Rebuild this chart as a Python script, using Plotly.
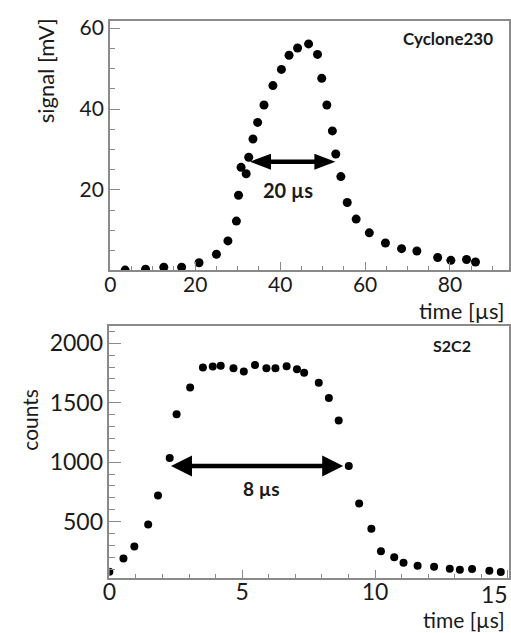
import plotly.graph_objects as go

# ---------------- data ----------------
top_time = [3.5, 8.3, 12.6, 16.8, 20.9, 25.0, 27.7, 29.7, 30.2, 30.8, 32.0, 32.6,
            33.6, 34.7, 36.2, 38.3, 40.3, 42.1, 44.1, 46.7, 48.8, 49.8, 51.0, 52.3,
            53.1, 54.3, 55.8, 57.9, 61.0, 64.8, 68.6, 72.2, 77.1, 80.2, 83.9, 86.0]
top_signal = [0.2, 0.4, 0.9, 0.9, 2.0, 4.1, 7.4, 12.3, 18.7, 25.6, 24.0, 28.1,
              32.6, 36.7, 41.0, 45.8, 49.8, 53.3, 55.1, 56.1, 53.5, 47.6, 41.0, 34.6,
              28.9, 23.3, 16.9, 12.8, 9.4, 6.9, 5.5, 4.9, 3.3, 2.6, 2.8, 2.2]

bot_time = [0.0, 0.53, 0.94, 1.46, 1.83, 2.27, 2.53, 3.04, 3.52, 3.89, 4.19, 4.67,
            5.06, 5.48, 5.91, 6.25, 6.67, 7.06, 7.33, 7.88, 8.26, 8.63, 9.01, 9.40,
            9.86, 10.22, 10.72, 11.07, 11.60, 12.22, 12.81, 13.19, 13.65, 14.30, 14.73]
bot_counts = [78, 189, 290, 476, 719, 1034, 1403, 1628, 1796, 1804, 1810, 1790,
              1762, 1818, 1790, 1790, 1806, 1782, 1752, 1668, 1539, 1350, 967, 652,
              440, 250, 200, 153, 128, 119, 103, 94, 100, 86, 75]

top_fwhm = [32.9, 53.0]
top_fwhm_level = 27.0
top_fwhm_label = "20 µs"
bot_fwhm = [2.32, 8.80]
bot_fwhm_level = 967
bot_fwhm_label = "8 µs"

top_xticks = [0, 20, 40, 60, 80]
top_yticks = [20, 40, 60]
bot_xticks = [0, 5, 10, 15]
bot_yticks = [500, 1000, 1500, 2000]

# ---------------- layout geometry ----------------
W, H = 511, 633
top_box = dict(x0=104.5, x1=510, y0=15, y1=267)
bot_box = dict(x0=104, x1=510, y0=323, y1=577.5)
top_xrange = [-0.1, 93.9]
top_yrange = [0.1, 61.8]
bot_xrange = [0.0, 15.04]
bot_yrange = [25, 2146]

FONT = "Lato, 'Open Sans', sans-serif"
AXIS_COL = "#8a8a8a"
TXT = "#1a1a1a"

fig = go.Figure()
fig.add_trace(go.Scatter(x=top_time, y=top_signal, mode="markers",
                         marker=dict(color="black", size=9),
                         xaxis="x", yaxis="y", showlegend=False))
fig.add_trace(go.Scatter(x=bot_time, y=bot_counts, mode="markers",
                         marker=dict(color="black", size=8),
                         xaxis="x2", yaxis="y2", showlegend=False))


def ax(domain, rng, ticks, minor, tlen, mlen, fs, anchor, standoff=0, ticktext=None):
    d = dict(domain=domain, range=rng, tickvals=ticks, ticks="inside",
             ticklen=tlen, tickwidth=1, tickcolor=AXIS_COL,
             minor=dict(dtick=minor, ticks="inside", ticklen=mlen,
                        tickcolor=AXIS_COL, tickwidth=1),
             showline=True, linecolor=AXIS_COL, linewidth=1.5, mirror=True,
             showgrid=False, zeroline=False, anchor=anchor,
             ticklabelstandoff=standoff,
             tickfont=dict(family=FONT, size=fs, color=TXT))
    if ticktext is not None:
        d["ticktext"] = ticktext
    return d


# last bottom x label ("15") sits at the very right edge; drawn separately below
bot_xtext = [str(v) for v in bot_xticks[:-1]] + [""]

fig.update_layout(
    width=W, height=H, margin=dict(l=0, r=0, t=0, b=0),
    paper_bgcolor="white", plot_bgcolor="white",
    xaxis=ax([top_box["x0"] / W, top_box["x1"] / W], top_xrange, top_xticks, 5, 9, 5, 21, "y", -5),
    yaxis=ax([1 - top_box["y1"] / H, 1 - top_box["y0"] / H], top_yrange, top_yticks, 5, 10, 5, 21, "x"),
    xaxis2=ax([bot_box["x0"] / W, bot_box["x1"] / W], bot_xrange, bot_xticks, 1, 8, 4, 23, "y2", -7,
              ticktext=bot_xtext),
    yaxis2=ax([1 - bot_box["y1"] / H, 1 - bot_box["y0"] / H], bot_yrange, bot_yticks, 100, 12, 6, 23, "x2"),
)

fig.add_annotation(text=str(bot_xticks[-1]), x=1.0, y=1 - 594 / H, xref="paper", yref="paper",
                   xanchor="right", yanchor="middle", showarrow=False,
                   font=dict(family=FONT, size=23, color=TXT))


def add_arrow(xref, yref, fwhm, level, box, xrange, half_h):
    head = 21
    ppu = (box["x1"] - box["x0"]) / (xrange[1] - xrange[0])
    inset = (head - 2) / ppu
    fig.add_shape(type="line", xref=xref, yref=yref,
                  x0=fwhm[0] + inset, x1=fwhm[1] - inset, y0=level, y1=level,
                  line=dict(color="black", width=4.5))
    for tip, sgn in ((fwhm[0], 1), (fwhm[1], -1)):
        fig.add_shape(type="path", xref=xref, yref=yref,
                      xsizemode="pixel", ysizemode="pixel",
                      xanchor=tip, yanchor=level,
                      path=f"M0,0 L{sgn*head},{half_h} L{sgn*head},{-half_h} Z",
                      fillcolor="black", line=dict(color="black", width=0))


add_arrow("x", "y", top_fwhm, top_fwhm_level, top_box, top_xrange, 8)
add_arrow("x2", "y2", bot_fwhm, bot_fwhm_level, bot_box, bot_xrange, 10.5)

ann = [
    dict(text="signal [mV]", x=39 / W, y=1 - 65.5 / H, textangle=-90, size=22),
    dict(text="counts", x=22 / W, y=1 - 418 / H, textangle=-90, size=21),
]
for a in ann:
    fig.add_annotation(text=a["text"], x=a["x"], y=a["y"], xref="paper", yref="paper",
                       xanchor="center", yanchor="middle", textangle=a["textangle"],
                       showarrow=False, font=dict(family=FONT, size=a["size"], color=TXT))

fig.add_annotation(text="time [µs]", x=508 / W, y=1 - 307 / H, xref="paper", yref="paper",
                   xanchor="right", yanchor="middle", showarrow=False,
                   font=dict(family=FONT, size=22, color=TXT))
fig.add_annotation(text="time [µs]", x=508 / W, y=1 - 619 / H, xref="paper", yref="paper",
                   xanchor="right", yanchor="middle", showarrow=False,
                   font=dict(family=FONT, size=21, color=TXT))

fig.add_annotation(text="<b>Cyclone230</b>", x=90.7, y=57.5, xref="x", yref="y",
                   xanchor="right", yanchor="middle", showarrow=False,
                   font=dict(family=FONT, size=17, color=TXT))
fig.add_annotation(text="<b>S2C2</b>", x=13.68, y=1982, xref="x2", yref="y2",
                   xanchor="right", yanchor="middle", showarrow=False,
                   font=dict(family=FONT, size=16, color=TXT))
fig.add_annotation(text=f"<b>{top_fwhm_label}</b>", x=41.9, y=19.9, xref="x", yref="y",
                   xanchor="center", yanchor="middle", showarrow=False,
                   font=dict(family=FONT, size=20, color=TXT))
fig.add_annotation(text=f"<b>{bot_fwhm_label}</b>", x=5.72, y=777, xref="x2", yref="y2",
                   xanchor="center", yanchor="middle", showarrow=False,
                   font=dict(family=FONT, size=19, color=TXT))

fig.write_html("out.html")
